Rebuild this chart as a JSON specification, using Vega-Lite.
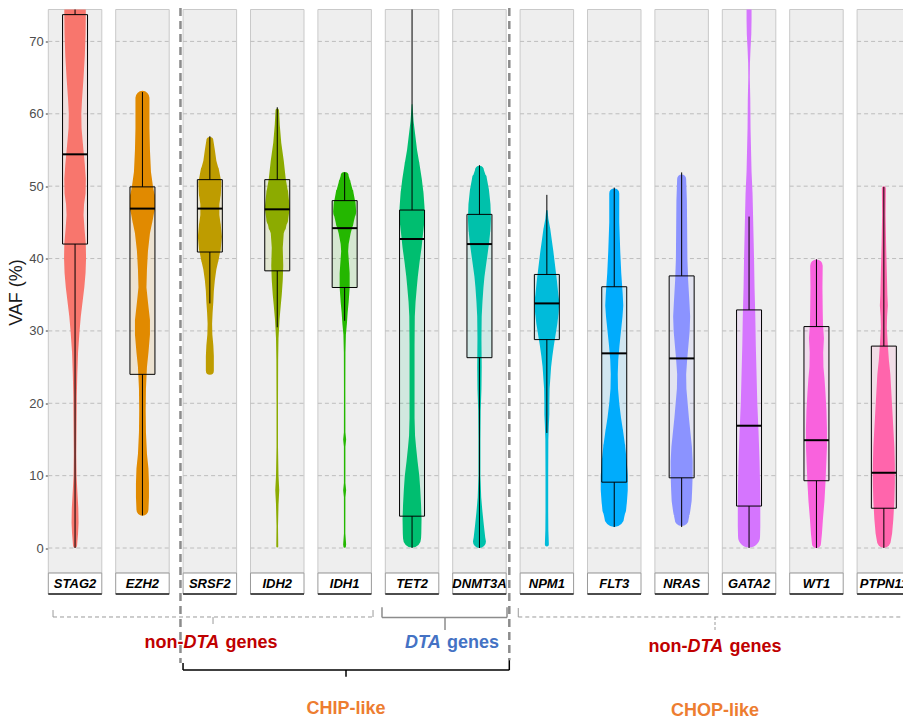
{
  "$schema": "https://vega.github.io/schema/vega-lite/v6.json",
  "usermeta": {"embedOptions": {"actions": false}},
  "autosize": {"type": "none"},
  "padding": {"left": 48.3, "top": 9.5, "right": 0, "bottom": 0},
  "width": 854.7,
  "height": 711.5,
  "background": "white",
  "config": {"view": {"stroke": null}, "font": "Liberation Sans"},
  "datasets": {
    "genes": [
      {"gene": "STAG2", "min": 0, "q1": 42.0, "med": 54.4, "q3": 73.7, "max": 80},
      {"gene": "EZH2", "min": 4.5, "q1": 24.0, "med": 46.9, "q3": 49.9, "max": 63},
      {"gene": "SRSF2", "min": 33.8, "q1": 40.9, "med": 46.9, "q3": 50.9, "max": 56.9},
      {"gene": "IDH2", "min": 30.5, "q1": 38.3, "med": 46.8, "q3": 50.9, "max": 60.9},
      {"gene": "IDH1", "min": 31.4, "q1": 36.0, "med": 44.2, "q3": 48.0, "max": 51.9},
      {"gene": "TET2", "min": 0, "q1": 4.4, "med": 42.7, "q3": 46.7, "max": 80},
      {"gene": "DNMT3A", "min": 0, "q1": 26.3, "med": 42.0, "q3": 46.1, "max": 52.9},
      {"gene": "NPM1", "min": 15.9, "q1": 28.8, "med": 33.8, "q3": 37.8, "max": 48.8},
      {"gene": "FLT3", "min": 2.9, "q1": 9.1, "med": 26.9, "q3": 36.1, "max": 49.8},
      {"gene": "NRAS", "min": 2.9, "q1": 9.7, "med": 26.2, "q3": 37.6, "max": 51.9},
      {"gene": "GATA2", "min": 0, "q1": 5.8, "med": 16.9, "q3": 32.9, "max": 45.8},
      {"gene": "WT1", "min": 0, "q1": 9.3, "med": 14.9, "q3": 30.6, "max": 39.9},
      {"gene": "PTPN11", "min": 0, "q1": 5.5, "med": 10.4, "q3": 27.9, "max": 49.9}
    ],
    "grid": [
      {"gene": "STAG2", "v": 0}, {"gene": "STAG2", "v": 10}, {"gene": "STAG2", "v": 20}, {"gene": "STAG2", "v": 30}, {"gene": "STAG2", "v": 40}, {"gene": "STAG2", "v": 50}, {"gene": "STAG2", "v": 60}, {"gene": "STAG2", "v": 70},
      {"gene": "EZH2", "v": 0}, {"gene": "EZH2", "v": 10}, {"gene": "EZH2", "v": 20}, {"gene": "EZH2", "v": 30}, {"gene": "EZH2", "v": 40}, {"gene": "EZH2", "v": 50}, {"gene": "EZH2", "v": 60}, {"gene": "EZH2", "v": 70},
      {"gene": "SRSF2", "v": 0}, {"gene": "SRSF2", "v": 10}, {"gene": "SRSF2", "v": 20}, {"gene": "SRSF2", "v": 30}, {"gene": "SRSF2", "v": 40}, {"gene": "SRSF2", "v": 50}, {"gene": "SRSF2", "v": 60}, {"gene": "SRSF2", "v": 70},
      {"gene": "IDH2", "v": 0}, {"gene": "IDH2", "v": 10}, {"gene": "IDH2", "v": 20}, {"gene": "IDH2", "v": 30}, {"gene": "IDH2", "v": 40}, {"gene": "IDH2", "v": 50}, {"gene": "IDH2", "v": 60}, {"gene": "IDH2", "v": 70},
      {"gene": "IDH1", "v": 0}, {"gene": "IDH1", "v": 10}, {"gene": "IDH1", "v": 20}, {"gene": "IDH1", "v": 30}, {"gene": "IDH1", "v": 40}, {"gene": "IDH1", "v": 50}, {"gene": "IDH1", "v": 60}, {"gene": "IDH1", "v": 70},
      {"gene": "TET2", "v": 0}, {"gene": "TET2", "v": 10}, {"gene": "TET2", "v": 20}, {"gene": "TET2", "v": 30}, {"gene": "TET2", "v": 40}, {"gene": "TET2", "v": 50}, {"gene": "TET2", "v": 60}, {"gene": "TET2", "v": 70},
      {"gene": "DNMT3A", "v": 0}, {"gene": "DNMT3A", "v": 10}, {"gene": "DNMT3A", "v": 20}, {"gene": "DNMT3A", "v": 30}, {"gene": "DNMT3A", "v": 40}, {"gene": "DNMT3A", "v": 50}, {"gene": "DNMT3A", "v": 60}, {"gene": "DNMT3A", "v": 70},
      {"gene": "NPM1", "v": 0}, {"gene": "NPM1", "v": 10}, {"gene": "NPM1", "v": 20}, {"gene": "NPM1", "v": 30}, {"gene": "NPM1", "v": 40}, {"gene": "NPM1", "v": 50}, {"gene": "NPM1", "v": 60}, {"gene": "NPM1", "v": 70},
      {"gene": "FLT3", "v": 0}, {"gene": "FLT3", "v": 10}, {"gene": "FLT3", "v": 20}, {"gene": "FLT3", "v": 30}, {"gene": "FLT3", "v": 40}, {"gene": "FLT3", "v": 50}, {"gene": "FLT3", "v": 60}, {"gene": "FLT3", "v": 70},
      {"gene": "NRAS", "v": 0}, {"gene": "NRAS", "v": 10}, {"gene": "NRAS", "v": 20}, {"gene": "NRAS", "v": 30}, {"gene": "NRAS", "v": 40}, {"gene": "NRAS", "v": 50}, {"gene": "NRAS", "v": 60}, {"gene": "NRAS", "v": 70},
      {"gene": "GATA2", "v": 0}, {"gene": "GATA2", "v": 10}, {"gene": "GATA2", "v": 20}, {"gene": "GATA2", "v": 30}, {"gene": "GATA2", "v": 40}, {"gene": "GATA2", "v": 50}, {"gene": "GATA2", "v": 60}, {"gene": "GATA2", "v": 70},
      {"gene": "WT1", "v": 0}, {"gene": "WT1", "v": 10}, {"gene": "WT1", "v": 20}, {"gene": "WT1", "v": 30}, {"gene": "WT1", "v": 40}, {"gene": "WT1", "v": 50}, {"gene": "WT1", "v": 60}, {"gene": "WT1", "v": 70},
      {"gene": "PTPN11", "v": 0}, {"gene": "PTPN11", "v": 10}, {"gene": "PTPN11", "v": 20}, {"gene": "PTPN11", "v": 30}, {"gene": "PTPN11", "v": 40}, {"gene": "PTPN11", "v": 50}, {"gene": "PTPN11", "v": 60}, {"gene": "PTPN11", "v": 70}
    ],
    "violin": [
      {"gene": "STAG2", "vaf": 80, "density": 0.42}, {"gene": "STAG2", "vaf": 74, "density": 0.43}, {"gene": "STAG2", "vaf": 71, "density": 0.42}, {"gene": "STAG2", "vaf": 68, "density": 0.39}, {"gene": "STAG2", "vaf": 65, "density": 0.34}, {"gene": "STAG2", "vaf": 62, "density": 0.28}, {"gene": "STAG2", "vaf": 60, "density": 0.25}, {"gene": "STAG2", "vaf": 58, "density": 0.26}, {"gene": "STAG2", "vaf": 56, "density": 0.31}, {"gene": "STAG2", "vaf": 53, "density": 0.39}, {"gene": "STAG2", "vaf": 51, "density": 0.43}, {"gene": "STAG2", "vaf": 49, "density": 0.42}, {"gene": "STAG2", "vaf": 47.5, "density": 0.36}, {"gene": "STAG2", "vaf": 46, "density": 0.34}, {"gene": "STAG2", "vaf": 44, "density": 0.38}, {"gene": "STAG2", "vaf": 42, "density": 0.43}, {"gene": "STAG2", "vaf": 40, "density": 0.44}, {"gene": "STAG2", "vaf": 38, "density": 0.42}, {"gene": "STAG2", "vaf": 36, "density": 0.37}, {"gene": "STAG2", "vaf": 34, "density": 0.30}, {"gene": "STAG2", "vaf": 32, "density": 0.23}, {"gene": "STAG2", "vaf": 30, "density": 0.18}, {"gene": "STAG2", "vaf": 27, "density": 0.12}, {"gene": "STAG2", "vaf": 24, "density": 0.09}, {"gene": "STAG2", "vaf": 21, "density": 0.07}, {"gene": "STAG2", "vaf": 17, "density": 0.06}, {"gene": "STAG2", "vaf": 13, "density": 0.05}, {"gene": "STAG2", "vaf": 10, "density": 0.06}, {"gene": "STAG2", "vaf": 8, "density": 0.09}, {"gene": "STAG2", "vaf": 5.5, "density": 0.13}, {"gene": "STAG2", "vaf": 3.5, "density": 0.14}, {"gene": "STAG2", "vaf": 2, "density": 0.12}, {"gene": "STAG2", "vaf": 0.3, "density": 0.08},
      {"gene": "EZH2", "vaf": 62.2, "density": 0.28}, {"gene": "EZH2", "vaf": 58, "density": 0.28}, {"gene": "EZH2", "vaf": 55, "density": 0.30}, {"gene": "EZH2", "vaf": 52, "density": 0.34}, {"gene": "EZH2", "vaf": 50, "density": 0.42}, {"gene": "EZH2", "vaf": 48.5, "density": 0.50}, {"gene": "EZH2", "vaf": 47, "density": 0.50}, {"gene": "EZH2", "vaf": 45.5, "density": 0.42}, {"gene": "EZH2", "vaf": 43.5, "density": 0.30}, {"gene": "EZH2", "vaf": 41, "density": 0.22}, {"gene": "EZH2", "vaf": 38.5, "density": 0.18}, {"gene": "EZH2", "vaf": 36, "density": 0.16}, {"gene": "EZH2", "vaf": 34, "density": 0.22}, {"gene": "EZH2", "vaf": 31.5, "density": 0.30}, {"gene": "EZH2", "vaf": 29.5, "density": 0.30}, {"gene": "EZH2", "vaf": 27, "density": 0.24}, {"gene": "EZH2", "vaf": 25, "density": 0.18}, {"gene": "EZH2", "vaf": 22, "density": 0.14}, {"gene": "EZH2", "vaf": 19, "density": 0.13}, {"gene": "EZH2", "vaf": 16, "density": 0.14}, {"gene": "EZH2", "vaf": 13, "density": 0.18}, {"gene": "EZH2", "vaf": 11, "density": 0.24}, {"gene": "EZH2", "vaf": 9, "density": 0.26}, {"gene": "EZH2", "vaf": 7, "density": 0.26}, {"gene": "EZH2", "vaf": 5.3, "density": 0.24},
      {"gene": "SRSF2", "vaf": 56.3, "density": 0.14}, {"gene": "SRSF2", "vaf": 55, "density": 0.20}, {"gene": "SRSF2", "vaf": 53.5, "density": 0.26}, {"gene": "SRSF2", "vaf": 52, "density": 0.38}, {"gene": "SRSF2", "vaf": 50.5, "density": 0.46}, {"gene": "SRSF2", "vaf": 49, "density": 0.44}, {"gene": "SRSF2", "vaf": 47.5, "density": 0.38}, {"gene": "SRSF2", "vaf": 46, "density": 0.38}, {"gene": "SRSF2", "vaf": 44.5, "density": 0.44}, {"gene": "SRSF2", "vaf": 43, "density": 0.48}, {"gene": "SRSF2", "vaf": 41.5, "density": 0.44}, {"gene": "SRSF2", "vaf": 40, "density": 0.36}, {"gene": "SRSF2", "vaf": 38.5, "density": 0.26}, {"gene": "SRSF2", "vaf": 37, "density": 0.20}, {"gene": "SRSF2", "vaf": 35.5, "density": 0.16}, {"gene": "SRSF2", "vaf": 34, "density": 0.14}, {"gene": "SRSF2", "vaf": 32.5, "density": 0.11}, {"gene": "SRSF2", "vaf": 31, "density": 0.09}, {"gene": "SRSF2", "vaf": 29.5, "density": 0.10}, {"gene": "SRSF2", "vaf": 28, "density": 0.14}, {"gene": "SRSF2", "vaf": 26.5, "density": 0.16}, {"gene": "SRSF2", "vaf": 24.5, "density": 0.16},
      {"gene": "IDH2", "vaf": 60.5, "density": 0.07}, {"gene": "IDH2", "vaf": 58.5, "density": 0.10}, {"gene": "IDH2", "vaf": 56, "density": 0.16}, {"gene": "IDH2", "vaf": 53.5, "density": 0.26}, {"gene": "IDH2", "vaf": 51, "density": 0.34}, {"gene": "IDH2", "vaf": 49, "density": 0.44}, {"gene": "IDH2", "vaf": 47, "density": 0.50}, {"gene": "IDH2", "vaf": 45.5, "density": 0.44}, {"gene": "IDH2", "vaf": 44.5, "density": 0.36}, {"gene": "IDH2", "vaf": 43.5, "density": 0.26}, {"gene": "IDH2", "vaf": 41.5, "density": 0.22}, {"gene": "IDH2", "vaf": 39, "density": 0.24}, {"gene": "IDH2", "vaf": 37, "density": 0.22}, {"gene": "IDH2", "vaf": 35, "density": 0.18}, {"gene": "IDH2", "vaf": 33.5, "density": 0.14}, {"gene": "IDH2", "vaf": 31.5, "density": 0.09}, {"gene": "IDH2", "vaf": 29, "density": 0.05}, {"gene": "IDH2", "vaf": 26, "density": 0.036}, {"gene": "IDH2", "vaf": 20, "density": 0.03}, {"gene": "IDH2", "vaf": 14, "density": 0.03}, {"gene": "IDH2", "vaf": 10, "density": 0.05}, {"gene": "IDH2", "vaf": 8, "density": 0.08}, {"gene": "IDH2", "vaf": 6, "density": 0.05}, {"gene": "IDH2", "vaf": 3, "density": 0.03}, {"gene": "IDH2", "vaf": 0.2, "density": 0.04},
      {"gene": "IDH1", "vaf": 51.4, "density": 0.16}, {"gene": "IDH1", "vaf": 50.5, "density": 0.24}, {"gene": "IDH1", "vaf": 49, "density": 0.36}, {"gene": "IDH1", "vaf": 47.5, "density": 0.44}, {"gene": "IDH1", "vaf": 46.5, "density": 0.46}, {"gene": "IDH1", "vaf": 45, "density": 0.36}, {"gene": "IDH1", "vaf": 43.5, "density": 0.24}, {"gene": "IDH1", "vaf": 42, "density": 0.16}, {"gene": "IDH1", "vaf": 41, "density": 0.14}, {"gene": "IDH1", "vaf": 39.5, "density": 0.17}, {"gene": "IDH1", "vaf": 38, "density": 0.20}, {"gene": "IDH1", "vaf": 36, "density": 0.20}, {"gene": "IDH1", "vaf": 34, "density": 0.16}, {"gene": "IDH1", "vaf": 32.5, "density": 0.12}, {"gene": "IDH1", "vaf": 31, "density": 0.09}, {"gene": "IDH1", "vaf": 29.5, "density": 0.05}, {"gene": "IDH1", "vaf": 27, "density": 0.032}, {"gene": "IDH1", "vaf": 22, "density": 0.028}, {"gene": "IDH1", "vaf": 16, "density": 0.03}, {"gene": "IDH1", "vaf": 15, "density": 0.06}, {"gene": "IDH1", "vaf": 14, "density": 0.03}, {"gene": "IDH1", "vaf": 9, "density": 0.03}, {"gene": "IDH1", "vaf": 8, "density": 0.06}, {"gene": "IDH1", "vaf": 7, "density": 0.03}, {"gene": "IDH1", "vaf": 2, "density": 0.028}, {"gene": "IDH1", "vaf": 0.5, "density": 0.06}, {"gene": "IDH1", "vaf": 0.2, "density": 0.05},
      {"gene": "TET2", "vaf": 61.3, "density": 0.016}, {"gene": "TET2", "vaf": 59, "density": 0.06}, {"gene": "TET2", "vaf": 57, "density": 0.13}, {"gene": "TET2", "vaf": 55, "density": 0.20}, {"gene": "TET2", "vaf": 53, "density": 0.30}, {"gene": "TET2", "vaf": 51, "density": 0.39}, {"gene": "TET2", "vaf": 49, "density": 0.46}, {"gene": "TET2", "vaf": 47, "density": 0.50}, {"gene": "TET2", "vaf": 45, "density": 0.49}, {"gene": "TET2", "vaf": 43.5, "density": 0.44}, {"gene": "TET2", "vaf": 41.5, "density": 0.38}, {"gene": "TET2", "vaf": 39.5, "density": 0.30}, {"gene": "TET2", "vaf": 37.5, "density": 0.23}, {"gene": "TET2", "vaf": 36, "density": 0.19}, {"gene": "TET2", "vaf": 34, "density": 0.14}, {"gene": "TET2", "vaf": 32, "density": 0.11}, {"gene": "TET2", "vaf": 28, "density": 0.10}, {"gene": "TET2", "vaf": 22, "density": 0.10}, {"gene": "TET2", "vaf": 18, "density": 0.10}, {"gene": "TET2", "vaf": 15.5, "density": 0.12}, {"gene": "TET2", "vaf": 14, "density": 0.16}, {"gene": "TET2", "vaf": 12, "density": 0.22}, {"gene": "TET2", "vaf": 10, "density": 0.29}, {"gene": "TET2", "vaf": 8, "density": 0.33}, {"gene": "TET2", "vaf": 6, "density": 0.36}, {"gene": "TET2", "vaf": 4, "density": 0.38}, {"gene": "TET2", "vaf": 2, "density": 0.37}, {"gene": "TET2", "vaf": 1.3, "density": 0.36},
      {"gene": "DNMT3A", "vaf": 52.2, "density": 0.18}, {"gene": "DNMT3A", "vaf": 51, "density": 0.30}, {"gene": "DNMT3A", "vaf": 49.5, "density": 0.38}, {"gene": "DNMT3A", "vaf": 47.5, "density": 0.44}, {"gene": "DNMT3A", "vaf": 45.5, "density": 0.46}, {"gene": "DNMT3A", "vaf": 44, "density": 0.44}, {"gene": "DNMT3A", "vaf": 42, "density": 0.38}, {"gene": "DNMT3A", "vaf": 40.5, "density": 0.32}, {"gene": "DNMT3A", "vaf": 39, "density": 0.26}, {"gene": "DNMT3A", "vaf": 37.5, "density": 0.20}, {"gene": "DNMT3A", "vaf": 36, "density": 0.16}, {"gene": "DNMT3A", "vaf": 34, "density": 0.12}, {"gene": "DNMT3A", "vaf": 32, "density": 0.09}, {"gene": "DNMT3A", "vaf": 29, "density": 0.08}, {"gene": "DNMT3A", "vaf": 25, "density": 0.09}, {"gene": "DNMT3A", "vaf": 22, "density": 0.08}, {"gene": "DNMT3A", "vaf": 19, "density": 0.05}, {"gene": "DNMT3A", "vaf": 15, "density": 0.04}, {"gene": "DNMT3A", "vaf": 10, "density": 0.04}, {"gene": "DNMT3A", "vaf": 7, "density": 0.07}, {"gene": "DNMT3A", "vaf": 5, "density": 0.12}, {"gene": "DNMT3A", "vaf": 3, "density": 0.18}, {"gene": "DNMT3A", "vaf": 1.5, "density": 0.23}, {"gene": "DNMT3A", "vaf": 0.9, "density": 0.26},
      {"gene": "NPM1", "vaf": 46.6, "density": 0.03}, {"gene": "NPM1", "vaf": 45.5, "density": 0.06}, {"gene": "NPM1", "vaf": 44, "density": 0.14}, {"gene": "NPM1", "vaf": 42.5, "density": 0.20}, {"gene": "NPM1", "vaf": 41, "density": 0.26}, {"gene": "NPM1", "vaf": 39, "density": 0.33}, {"gene": "NPM1", "vaf": 37, "density": 0.40}, {"gene": "NPM1", "vaf": 35, "density": 0.46}, {"gene": "NPM1", "vaf": 34, "density": 0.50}, {"gene": "NPM1", "vaf": 32.5, "density": 0.47}, {"gene": "NPM1", "vaf": 31, "density": 0.42}, {"gene": "NPM1", "vaf": 29.5, "density": 0.35}, {"gene": "NPM1", "vaf": 28, "density": 0.28}, {"gene": "NPM1", "vaf": 26.5, "density": 0.22}, {"gene": "NPM1", "vaf": 25, "density": 0.17}, {"gene": "NPM1", "vaf": 23.5, "density": 0.14}, {"gene": "NPM1", "vaf": 22, "density": 0.11}, {"gene": "NPM1", "vaf": 20, "density": 0.10}, {"gene": "NPM1", "vaf": 18.5, "density": 0.10}, {"gene": "NPM1", "vaf": 17, "density": 0.08}, {"gene": "NPM1", "vaf": 15, "density": 0.06}, {"gene": "NPM1", "vaf": 10, "density": 0.054}, {"gene": "NPM1", "vaf": 5, "density": 0.054}, {"gene": "NPM1", "vaf": 2.5, "density": 0.06}, {"gene": "NPM1", "vaf": 0.5, "density": 0.08},
      {"gene": "FLT3", "vaf": 49, "density": 0.20}, {"gene": "FLT3", "vaf": 45, "density": 0.20}, {"gene": "FLT3", "vaf": 41, "density": 0.24}, {"gene": "FLT3", "vaf": 38, "density": 0.28}, {"gene": "FLT3", "vaf": 35, "density": 0.34}, {"gene": "FLT3", "vaf": 33.5, "density": 0.36}, {"gene": "FLT3", "vaf": 32, "density": 0.33}, {"gene": "FLT3", "vaf": 30, "density": 0.27}, {"gene": "FLT3", "vaf": 28, "density": 0.21}, {"gene": "FLT3", "vaf": 26, "density": 0.16}, {"gene": "FLT3", "vaf": 24, "density": 0.14}, {"gene": "FLT3", "vaf": 22, "density": 0.15}, {"gene": "FLT3", "vaf": 20, "density": 0.20}, {"gene": "FLT3", "vaf": 18, "density": 0.27}, {"gene": "FLT3", "vaf": 16, "density": 0.36}, {"gene": "FLT3", "vaf": 14, "density": 0.44}, {"gene": "FLT3", "vaf": 12, "density": 0.50}, {"gene": "FLT3", "vaf": 10, "density": 0.54}, {"gene": "FLT3", "vaf": 8, "density": 0.54}, {"gene": "FLT3", "vaf": 6.5, "density": 0.51}, {"gene": "FLT3", "vaf": 5.5, "density": 0.48}, {"gene": "FLT3", "vaf": 4.3, "density": 0.40},
      {"gene": "NRAS", "vaf": 51, "density": 0.18}, {"gene": "NRAS", "vaf": 48, "density": 0.21}, {"gene": "NRAS", "vaf": 44, "density": 0.22}, {"gene": "NRAS", "vaf": 40, "density": 0.23}, {"gene": "NRAS", "vaf": 37, "density": 0.26}, {"gene": "NRAS", "vaf": 34, "density": 0.31}, {"gene": "NRAS", "vaf": 32, "density": 0.34}, {"gene": "NRAS", "vaf": 30, "density": 0.32}, {"gene": "NRAS", "vaf": 28, "density": 0.27}, {"gene": "NRAS", "vaf": 26, "density": 0.22}, {"gene": "NRAS", "vaf": 24, "density": 0.18}, {"gene": "NRAS", "vaf": 22, "density": 0.19}, {"gene": "NRAS", "vaf": 20, "density": 0.24}, {"gene": "NRAS", "vaf": 18, "density": 0.29}, {"gene": "NRAS", "vaf": 16, "density": 0.35}, {"gene": "NRAS", "vaf": 14, "density": 0.41}, {"gene": "NRAS", "vaf": 12, "density": 0.44}, {"gene": "NRAS", "vaf": 10, "density": 0.44}, {"gene": "NRAS", "vaf": 8, "density": 0.42}, {"gene": "NRAS", "vaf": 6.5, "density": 0.40}, {"gene": "NRAS", "vaf": 5, "density": 0.34}, {"gene": "NRAS", "vaf": 4, "density": 0.28},
      {"gene": "GATA2", "vaf": 80, "density": 0.10}, {"gene": "GATA2", "vaf": 73, "density": 0.10}, {"gene": "GATA2", "vaf": 71, "density": 0.09}, {"gene": "GATA2", "vaf": 69, "density": 0.06}, {"gene": "GATA2", "vaf": 67, "density": 0.036}, {"gene": "GATA2", "vaf": 65, "density": 0.03}, {"gene": "GATA2", "vaf": 62, "density": 0.05}, {"gene": "GATA2", "vaf": 58, "density": 0.06}, {"gene": "GATA2", "vaf": 55, "density": 0.08}, {"gene": "GATA2", "vaf": 52, "density": 0.10}, {"gene": "GATA2", "vaf": 49, "density": 0.14}, {"gene": "GATA2", "vaf": 46, "density": 0.16}, {"gene": "GATA2", "vaf": 43, "density": 0.18}, {"gene": "GATA2", "vaf": 40, "density": 0.20}, {"gene": "GATA2", "vaf": 36, "density": 0.22}, {"gene": "GATA2", "vaf": 32, "density": 0.25}, {"gene": "GATA2", "vaf": 28, "density": 0.27}, {"gene": "GATA2", "vaf": 24, "density": 0.30}, {"gene": "GATA2", "vaf": 20, "density": 0.33}, {"gene": "GATA2", "vaf": 16, "density": 0.38}, {"gene": "GATA2", "vaf": 12, "density": 0.42}, {"gene": "GATA2", "vaf": 9, "density": 0.44}, {"gene": "GATA2", "vaf": 6, "density": 0.45}, {"gene": "GATA2", "vaf": 3, "density": 0.45}, {"gene": "GATA2", "vaf": 1.6, "density": 0.44},
      {"gene": "WT1", "vaf": 39, "density": 0.25}, {"gene": "WT1", "vaf": 36, "density": 0.24}, {"gene": "WT1", "vaf": 33, "density": 0.25}, {"gene": "WT1", "vaf": 31, "density": 0.26}, {"gene": "WT1", "vaf": 29, "density": 0.30}, {"gene": "WT1", "vaf": 27, "density": 0.27}, {"gene": "WT1", "vaf": 25, "density": 0.28}, {"gene": "WT1", "vaf": 23.5, "density": 0.32}, {"gene": "WT1", "vaf": 21.5, "density": 0.36}, {"gene": "WT1", "vaf": 19, "density": 0.40}, {"gene": "WT1", "vaf": 16.5, "density": 0.42}, {"gene": "WT1", "vaf": 14, "density": 0.42}, {"gene": "WT1", "vaf": 11.5, "density": 0.39}, {"gene": "WT1", "vaf": 9, "density": 0.36}, {"gene": "WT1", "vaf": 6.5, "density": 0.32}, {"gene": "WT1", "vaf": 4, "density": 0.26}, {"gene": "WT1", "vaf": 2, "density": 0.22}, {"gene": "WT1", "vaf": 0.6, "density": 0.18},
      {"gene": "PTPN11", "vaf": 49.7, "density": 0.08}, {"gene": "PTPN11", "vaf": 46, "density": 0.07}, {"gene": "PTPN11", "vaf": 42, "density": 0.09}, {"gene": "PTPN11", "vaf": 38, "density": 0.12}, {"gene": "PTPN11", "vaf": 35, "density": 0.14}, {"gene": "PTPN11", "vaf": 33.5, "density": 0.16}, {"gene": "PTPN11", "vaf": 32, "density": 0.13}, {"gene": "PTPN11", "vaf": 30.5, "density": 0.12}, {"gene": "PTPN11", "vaf": 28.5, "density": 0.15}, {"gene": "PTPN11", "vaf": 26, "density": 0.20}, {"gene": "PTPN11", "vaf": 24, "density": 0.26}, {"gene": "PTPN11", "vaf": 21.5, "density": 0.30}, {"gene": "PTPN11", "vaf": 19, "density": 0.34}, {"gene": "PTPN11", "vaf": 16.5, "density": 0.38}, {"gene": "PTPN11", "vaf": 14, "density": 0.42}, {"gene": "PTPN11", "vaf": 11.5, "density": 0.44}, {"gene": "PTPN11", "vaf": 9, "density": 0.44}, {"gene": "PTPN11", "vaf": 6.5, "density": 0.42}, {"gene": "PTPN11", "vaf": 4, "density": 0.38}, {"gene": "PTPN11", "vaf": 2, "density": 0.33}, {"gene": "PTPN11", "vaf": 1, "density": 0.28}
    ]
  },
  "layer": [
    {
      "layer": [
        {
          "data": {"name": "genes"},
          "mark": {"type": "bar", "fill": "#EEEEEE", "stroke": "#C9C9C9", "strokeWidth": 1},
          "encoding": {
            "x": {"field": "gene", "type": "nominal", "axis": null,
                  "scale": {"type": "band", "domain": ["STAG2","EZH2","SRSF2","IDH2","IDH1","TET2","DNMT3A","NPM1","FLT3","NRAS","GATA2","WT1","PTPN11"], "range": [0, 862.3], "paddingInner": 0.2062, "paddingOuter": 0}},
            "y": {"datum": 74.41, "type": "quantitative",
                  "scale": {"domain": [-23.9, 74.41], "nice": false, "zero": false},
                  "axis": {"title": "VAF (%)", "values": [0,10,20,30,40,50,60,70], "grid": false, "domain": false, "tickSize": 3, "tickColor": "#333333", "labelFontSize": 13, "labelColor": "#4D4D4D", "labelPadding": 2, "labelFont": "Liberation Sans", "titleFont": "Liberation Sans", "titleFontSize": 18, "titleFontWeight": "normal", "titleColor": "#1A1A1A", "titleY": 282.5, "titlePadding": 3}},
            "y2": {"datum": -3.455}
          }
        },
        {
          "data": {"name": "grid"},
          "mark": {"type": "rule", "stroke": "#BDBDBD", "strokeWidth": 1, "strokeDash": [4, 3]},
          "encoding": {
            "x": {"field": "gene", "type": "nominal", "bandPosition": 0},
            "x2": {"field": "gene", "bandPosition": 1},
            "y": {"field": "v", "type": "quantitative", "title": "VAF (%)"}
          }
        },
        {
          "data": {"name": "genes"},
          "mark": {"type": "bar", "width": {"band": 0.467}, "fillOpacity": 0.12},
          "encoding": {
            "x": {"field": "gene", "type": "nominal"},
            "y": {"field": "q1", "type": "quantitative", "title": "VAF (%)"},
            "y2": {"field": "q3"},
            "color": {"field": "gene", "type": "nominal", "legend": null}
          }
        },
        {
          "data": {"name": "violin"},
          "mark": {"type": "trail", "clip": true},
          "encoding": {
            "x": {"field": "gene", "type": "nominal", "bandPosition": 0.5},
            "y": {"field": "vaf", "type": "quantitative", "title": "VAF (%)"},
            "size": {"field": "density", "type": "quantitative", "scale": {"domain": [0, 1], "range": [0, 50], "zero": true}, "legend": null},
            "color": {"field": "gene", "type": "nominal", "legend": null,
                      "scale": {"domain": ["STAG2","EZH2","SRSF2","IDH2","IDH1","TET2","DNMT3A","NPM1","FLT3","NRAS","GATA2","WT1","PTPN11"],
                                "range": ["#F8766D","#E18A00","#BE9C00","#8CAB00","#24B700","#00BE70","#00C1AB","#00BBDA","#00ACFC","#8B93FF","#D575FE","#F962DD","#FF65AC"]}},
            "order": {"field": "vaf", "type": "quantitative"}
          }
        },
        {
          "data": {"name": "genes"},
          "mark": {"type": "bar", "width": {"band": 0.467}, "fillOpacity": 0, "stroke": "#000000", "strokeWidth": 1},
          "encoding": {
            "x": {"field": "gene", "type": "nominal"},
            "y": {"field": "q1", "type": "quantitative", "title": "VAF (%)"},
            "y2": {"field": "q3"}
          }
        },
        {
          "data": {"name": "genes"},
          "mark": {"type": "rule", "color": "#000000", "strokeWidth": 1, "clip": true},
          "encoding": {
            "x": {"field": "gene", "type": "nominal", "bandPosition": 0.5},
            "y": {"field": "q3", "type": "quantitative", "title": "VAF (%)"},
            "y2": {"field": "max"}
          }
        },
        {
          "data": {"name": "genes"},
          "mark": {"type": "rule", "color": "#000000", "strokeWidth": 1},
          "encoding": {
            "x": {"field": "gene", "type": "nominal", "bandPosition": 0.5},
            "y": {"field": "min", "type": "quantitative", "title": "VAF (%)"},
            "y2": {"field": "q1"}
          }
        },
        {
          "data": {"name": "genes"},
          "mark": {"type": "tick", "orient": "horizontal", "size": 25, "thickness": 2, "color": "#000000", "opacity": 1},
          "encoding": {
            "x": {"field": "gene", "type": "nominal"},
            "y": {"field": "med", "type": "quantitative", "title": "VAF (%)"}
          }
        },
        {
          "data": {"name": "genes"},
          "mark": {"type": "bar", "fill": "#FFFFFF", "stroke": "#9A9A9A", "strokeWidth": 1},
          "encoding": {
            "x": {"field": "gene", "type": "nominal"},
            "y": {"datum": -3.455},
            "y2": {"datum": -6.356}
          }
        },
        {
          "data": {"name": "genes"},
          "mark": {"type": "rule", "color": "#222222", "strokeWidth": 1.5},
          "encoding": {
            "x": {"field": "gene", "type": "nominal", "bandPosition": 0},
            "x2": {"field": "gene", "bandPosition": 1},
            "y": {"datum": -6.356}
          }
        },
        {
          "data": {"name": "genes"},
          "mark": {"type": "text", "fontSize": 13, "fontWeight": "bold", "fontStyle": "italic", "color": "#000000", "baseline": "middle", "align": "center"},
          "encoding": {
            "x": {"field": "gene", "type": "nominal", "bandPosition": 0.5},
            "y": {"datum": -4.905},
            "text": {"field": "gene"}
          }
        }
      ]
    },
    {
      "data": {"values": [{}]},
      "layer": [
        {
          "mark": {"type": "rule", "color": "#8C8C8C", "strokeWidth": 2.5, "strokeDash": [8, 5]},
          "encoding": {
            "x": {"datum": 1.564, "type": "quantitative", "axis": null, "scale": {"domain": [-0.397, 12.397], "range": [0, 862.3], "nice": false, "zero": false}},
            "y": {"datum": 74.6}, "y2": {"datum": -15.9}
          }
        },
        {
          "mark": {"type": "rule", "color": "#8C8C8C", "strokeWidth": 2.5, "strokeDash": [8, 5]},
          "encoding": {"x": {"datum": 6.443}, "y": {"datum": 74.6}, "y2": {"datum": -15.5}}
        },
        {"mark": {"type": "rule", "color": "#9A9A9A", "strokeWidth": 1, "strokeDash": [4, 3]},
         "encoding": {"x": {"datum": -0.327}, "x2": {"datum": 4.421}, "y": {"datum": -9.53}}},
        {"mark": {"type": "rule", "color": "#9A9A9A", "strokeWidth": 1},
         "encoding": {"x": {"datum": -0.327}, "y": {"datum": -8.57}, "y2": {"datum": -9.53}}},
        {"mark": {"type": "rule", "color": "#9A9A9A", "strokeWidth": 1},
         "encoding": {"x": {"datum": 4.421}, "y": {"datum": -8.57}, "y2": {"datum": -9.53}}},
        {"mark": {"type": "rule", "color": "#9A9A9A", "strokeWidth": 1},
         "encoding": {"x": {"datum": 2.047}, "y": {"datum": -9.53}, "y2": {"datum": -10.5}}},
        {"mark": {"type": "rule", "color": "#8C8C8C", "strokeWidth": 1.5},
         "encoding": {"x": {"datum": 4.554}, "x2": {"datum": 6.409}, "y": {"datum": -9.6}}},
        {"mark": {"type": "rule", "color": "#8C8C8C", "strokeWidth": 1.5},
         "encoding": {"x": {"datum": 4.554}, "y": {"datum": -8.2}, "y2": {"datum": -9.6}}},
        {"mark": {"type": "rule", "color": "#8C8C8C", "strokeWidth": 1.5},
         "encoding": {"x": {"datum": 6.409}, "y": {"datum": -8.2}, "y2": {"datum": -9.6}}},
        {"mark": {"type": "rule", "color": "#8C8C8C", "strokeWidth": 1.5},
         "encoding": {"x": {"datum": 5.489}, "y": {"datum": -9.6}, "y2": {"datum": -11.33}}},
        {"mark": {"type": "rule", "color": "#9A9A9A", "strokeWidth": 1, "strokeDash": [4, 3]},
         "encoding": {"x": {"datum": 6.576}, "x2": {"datum": 12.6}, "y": {"datum": -9.53}}},
        {"mark": {"type": "rule", "color": "#9A9A9A", "strokeWidth": 1},
         "encoding": {"x": {"datum": 6.576}, "y": {"datum": -8.29}, "y2": {"datum": -9.53}}},
        {"mark": {"type": "rule", "color": "#9A9A9A", "strokeWidth": 1, "strokeDash": [3, 2]},
         "encoding": {"x": {"datum": 9.495}, "y": {"datum": -9.53}, "y2": {"datum": -11.33}}},
        {"mark": {"type": "rule", "color": "#000000", "strokeWidth": 1.5},
         "encoding": {"x": {"datum": 1.602}, "x2": {"datum": 6.443}, "y": {"datum": -16.86}}},
        {"mark": {"type": "rule", "color": "#000000", "strokeWidth": 1.5},
         "encoding": {"x": {"datum": 1.602}, "y": {"datum": -15.89}, "y2": {"datum": -16.86}}},
        {"mark": {"type": "rule", "color": "#000000", "strokeWidth": 1.5},
         "encoding": {"x": {"datum": 6.443}, "y": {"datum": -15.5}, "y2": {"datum": -16.86}}},
        {"mark": {"type": "rule", "color": "#000000", "strokeWidth": 1.5},
         "encoding": {"x": {"datum": 4.02}, "y": {"datum": -16.86}, "y2": {"datum": -17.78}}},
        {"mark": {"type": "text", "text": "non-", "align": "left", "baseline": "alphabetic", "fontSize": 18, "fontWeight": "bold", "color": "#C00000"},
         "encoding": {"x": {"datum": 1.03}, "y": {"datum": -13.86}}},
        {"mark": {"type": "text", "text": "DTA", "align": "left", "baseline": "alphabetic", "fontSize": 18, "fontWeight": "bold", "fontStyle": "italic", "color": "#C00000"},
         "encoding": {"x": {"datum": 1.609}, "y": {"datum": -13.86}}},
        {"mark": {"type": "text", "text": "genes", "align": "left", "baseline": "alphabetic", "fontSize": 18, "fontWeight": "bold", "color": "#C00000"},
         "encoding": {"x": {"datum": 2.232}, "y": {"datum": -13.86}}},
        {"mark": {"type": "text", "text": "DTA", "align": "left", "baseline": "alphabetic", "fontSize": 18, "fontWeight": "bold", "fontStyle": "italic", "color": "#4472C4"},
         "encoding": {"x": {"datum": 4.895}, "y": {"datum": -13.86}}},
        {"mark": {"type": "text", "text": "genes", "align": "left", "baseline": "alphabetic", "fontSize": 18, "fontWeight": "bold", "color": "#4472C4"},
         "encoding": {"x": {"datum": 5.518}, "y": {"datum": -13.86}}},
        {"mark": {"type": "text", "text": "non-", "align": "left", "baseline": "alphabetic", "fontSize": 18, "fontWeight": "bold", "color": "#C00000"},
         "encoding": {"x": {"datum": 8.508}, "y": {"datum": -14.37}}},
        {"mark": {"type": "text", "text": "DTA", "align": "left", "baseline": "alphabetic", "fontSize": 18, "fontWeight": "bold", "fontStyle": "italic", "color": "#C00000"},
         "encoding": {"x": {"datum": 9.087}, "y": {"datum": -14.37}}},
        {"mark": {"type": "text", "text": "genes", "align": "left", "baseline": "alphabetic", "fontSize": 18, "fontWeight": "bold", "color": "#C00000"},
         "encoding": {"x": {"datum": 9.71}, "y": {"datum": -14.37}}},
        {"mark": {"type": "text", "text": "CHIP-like", "align": "center", "baseline": "alphabetic", "fontSize": 18, "fontWeight": "bold", "color": "#ED7D31"},
         "encoding": {"x": {"datum": 4.02}, "y": {"datum": -22.94}}},
        {"mark": {"type": "text", "text": "CHOP-like", "align": "center", "baseline": "alphabetic", "fontSize": 18, "fontWeight": "bold", "color": "#ED7D31"},
         "encoding": {"x": {"datum": 9.495}, "y": {"datum": -23.21}}}
      ]
    }
  ],
  "resolve": {"scale": {"x": "independent"}}
}
